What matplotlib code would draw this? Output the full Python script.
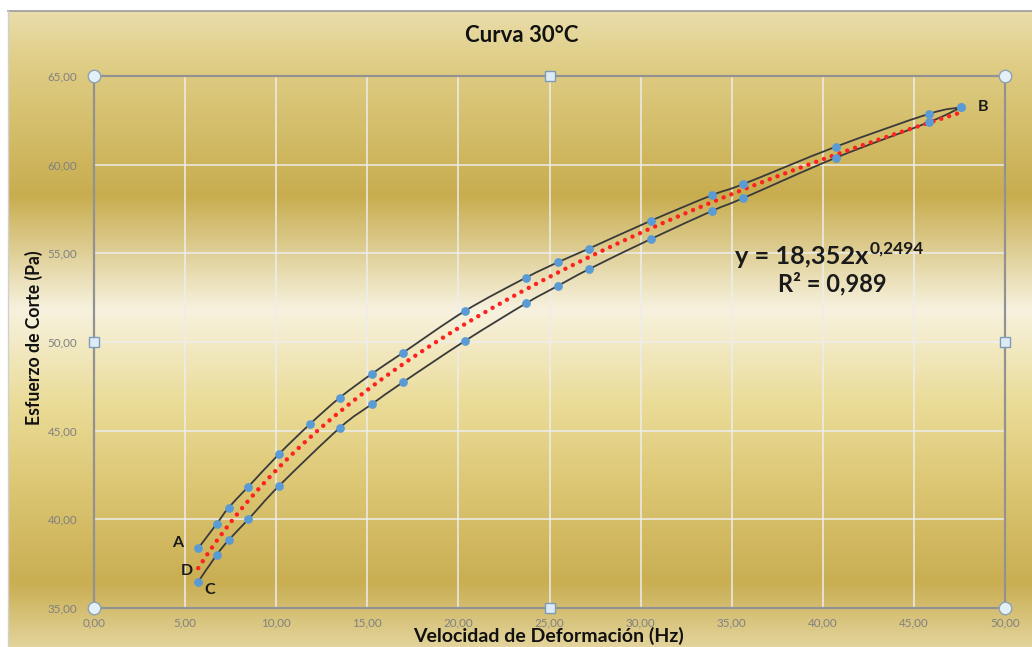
import numpy as np
import matplotlib
matplotlib.use('Agg')
import matplotlib.pyplot as plt
from matplotlib.path import Path
from matplotlib.patches import PathPatch
from matplotlib.colors import to_rgb
from matplotlib.ticker import FuncFormatter, FixedLocator
from matplotlib.lines import Line2D

plt.rcParams['font.family'] = ['Lato', 'DejaVu Sans']

# ---------------- data ----------------
title = "Curva 30°C"
x_label = "Velocidad de Deformación (Hz)"
y_label = "Esfuerzo de Corte (Pa)"
x_ticks = [0, 5, 10, 15, 20, 25, 30, 35, 40, 45, 50]
y_ticks = [35, 40, 45, 50, 55, 60, 65]

# upper branch A -> B
up_x = [5.72, 6.73, 7.39, 8.47, 10.17, 11.86, 13.50, 15.24, 16.94, 20.36,
        23.71, 25.45, 27.15, 30.57, 33.94, 35.60, 40.71, 45.81, 47.58]
up_y = [38.37, 39.74, 40.66, 41.84, 43.70, 45.38, 46.87, 48.20, 49.38, 51.75,
        53.63, 54.49, 55.26, 56.84, 58.29, 58.89, 61.01, 62.86, 63.23]
# lower branch C -> B
down_x = [5.72, 6.73, 7.39, 8.47, 10.17, 13.50, 15.24, 16.94, 20.36,
          23.71, 25.45, 27.15, 30.57, 33.94, 35.60, 40.71, 45.81, 47.58]
down_y = [36.48, 37.99, 38.83, 40.00, 41.90, 45.17, 46.49, 47.72, 50.06,
          52.18, 53.16, 54.10, 55.81, 57.40, 58.10, 60.39, 62.39, 63.23]

point_labels = ["A", "B", "C", "D"]
eq_coef = "18,352"
eq_exp = "0,2494"
r2_value = "0,989"

# ---------------- figure ----------------
W, H = 1032, 647
fig = plt.figure(figsize=(W / 100, H / 100), dpi=100)
fig.patch.set_facecolor('white')

# gold gradient background
bg = fig.add_axes([8 / W, 0, 1 - 8 / W, (H - 11) / H], zorder=-10)
stops = [(0.00, '#E9DDAB'), (0.08, '#E0CE86'), (0.29, '#C8AD4F'),
         (0.47, '#F7F2DF'), (0.62, '#EADB96'), (0.75, '#DCC673'),
         (0.90, '#C9AE52'), (1.00, '#E3D49C')]
pos = np.array([s[0] for s in stops])
cols = np.array([to_rgb(s[1]) for s in stops])
t = np.linspace(0, 1, 600)
grad = np.stack([np.interp(t, pos, cols[:, k]) for k in range(3)], axis=1)
bg.imshow(grad[:, None, :], aspect='auto', extent=[0, 1, 0, 1], origin='upper')
bg.set_xlim(0, 1); bg.set_ylim(0, 1)
bg.axis('off')
fig.add_artist(Line2D([8 / W, 1], [(H - 11) / H] * 2, color='#9A9A9A', lw=1.2))
fig.add_artist(Line2D([8 / W, 8 / W], [0, (H - 11) / H], color='#D0D0D0', lw=1.0))

ax = fig.add_axes([94 / W, (H - 608) / H, (1005 - 94) / W, (608 - 76) / H])
ax.patch.set_alpha(0)
ax.set_xlim(x_ticks[0], x_ticks[-1])
ax.set_ylim(y_ticks[0], y_ticks[-1])
ax.xaxis.set_major_locator(FixedLocator(x_ticks))
ax.yaxis.set_major_locator(FixedLocator(y_ticks))
fmt = FuncFormatter(lambda v, p: f"{v:.2f}".replace('.', ','))
ax.xaxis.set_major_formatter(fmt)
ax.yaxis.set_major_formatter(fmt)
ax.tick_params(length=0, labelsize=8.4, labelcolor='#808080')
ax.tick_params(axis='y', pad=12)
ax.tick_params(axis='x', pad=7)
ax.grid(True, color='#EDEDED', lw=1.1, zorder=0)
for s in ax.spines.values():
    s.set_color('#929292')
    s.set_linewidth(1.6)


def smooth_path(xs, ys):
    P = np.column_stack([xs, ys])
    n = len(P)
    verts = [P[0]]
    codes = [Path.MOVETO]
    for i in range(n - 1):
        p0 = P[i - 1] if i > 0 else P[i]
        p3 = P[i + 2] if i + 2 < n else P[i + 1]
        c1 = P[i] + (P[i + 1] - p0) / 6
        c2 = P[i + 1] - (p3 - P[i]) / 6
        verts += [c1, c2, P[i + 1]]
        codes += [Path.CURVE4] * 3
    return Path(verts, codes)


for xs, ys in [(up_x, up_y), (down_x, down_y)]:
    ax.add_patch(PathPatch(smooth_path(xs, ys), fill=False, ec='#3A3A3A',
                           lw=1.3, zorder=3))

# power trendline fitted from the data
all_x = np.array(up_x + down_x)
all_y = np.array(up_y + down_y)
b, loga = np.polyfit(np.log(all_x), np.log(all_y), 1)
tx = np.linspace(all_x.min(), all_x.max(), 400)
ty = np.exp(loga) * tx ** b
ax.plot(tx, ty, color='#FF2020', lw=3.2, linestyle=(0, (0.01, 1.85)),
        dash_capstyle='round', zorder=4)

ax.plot(up_x, up_y, 'o', color='#5B9BD5', ms=6.3, mec='none', zorder=5)
ax.plot(down_x, down_y, 'o', color='#5B9BD5', ms=6.3, mec='none', zorder=5)

lab_kw = dict(textcoords='offset pixels', fontsize=11.5, fontweight='bold',
              color='#1A1A1A', ha='center', va='center', zorder=6)
ax.annotate(point_labels[0], (up_x[0], up_y[0]), xytext=(-21, 5), **lab_kw)
ax.annotate(point_labels[1], (up_x[-1], up_y[-1]), xytext=(22, 0), **lab_kw)
ax.annotate(point_labels[2], (down_x[0], down_y[0]), xytext=(11, -8), **lab_kw)
ax.annotate(point_labels[3], (tx[0], ty[0]), xytext=(-11, -3), **lab_kw)

eq_base = fig.text(735 / W, (H - 256) / H, f"y = {eq_coef}x", ha='left',
                   va='center', fontsize=18.3, fontweight='bold', color='#1A1A1A')
ax.annotate(eq_exp, xy=(1.0, 0.62), xycoords=eq_base, xytext=(1, 0),
            textcoords='offset pixels', ha='left', va='baseline', fontsize=12.5,
            fontweight='bold', color='#1A1A1A')
fig.text(832 / W, (H - 284) / H, f"R² = {r2_value}", ha='center', va='center',
         fontsize=17, fontweight='bold', color='#1A1A1A')

fig.text(522 / W, (H - 36) / H, title, ha='center', va='center', fontsize=16,
         fontweight='bold', color='#111111')
fig.text(548 / W, (H - 636) / H, x_label, ha='center', va='center', fontsize=14,
         fontweight='bold', color='#111111')
fig.text(34 / W, (H - 338) / H, y_label, ha='center', va='center', fontsize=12.7,
         fontweight='bold', color='#111111', rotation=90)

# selection handles (corners circles, mid-edge squares)
hx_c = [0, 1, 0, 1]
hy_c = [0, 0, 1, 1]
ax.plot(hx_c, hy_c, 'o', transform=ax.transAxes, ms=9, mfc='#E4F0F8',
        mec='#8DA2B4', mew=1.0, clip_on=False, zorder=10)
hx_s = [0.5, 0, 1, 0.5]
hy_s = [0, 0.5, 0.5, 1]
ax.plot(hx_s, hy_s, 's', transform=ax.transAxes, ms=6.5, mfc='#DDEBF6',
        mec='#7E9BB8', mew=1.0, clip_on=False, zorder=10)

fig.savefig('out.png', dpi=100)
